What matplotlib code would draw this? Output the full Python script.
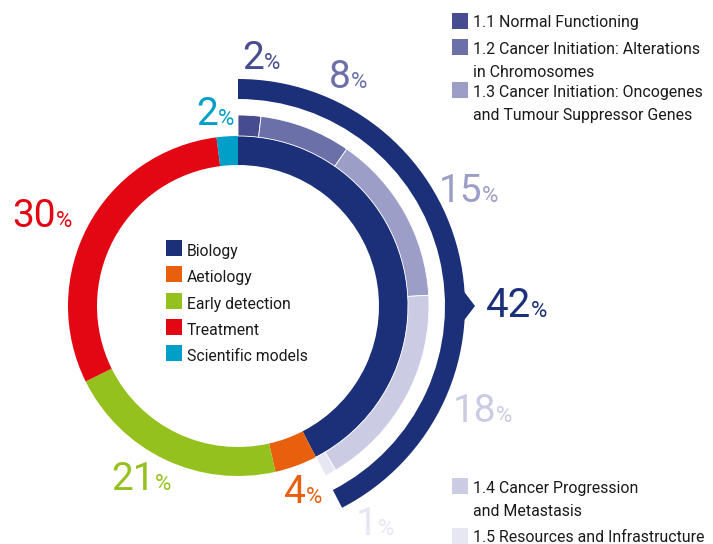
import matplotlib
matplotlib.use("Agg")
import matplotlib.pyplot as plt
from matplotlib.patches import Polygon, Rectangle

plt.rcParams['font.family'] = ['Roboto', 'DejaVu Sans']

# main categories (share of all projects, %)
categories = ["Biology", "Aetiology", "Early detection", "Treatment", "Scientific models"]
cat_values = [42, 4, 21, 30, 2]
cat_colors = ["#1b3078", "#e8600e", "#95c11f", "#e30613", "#009fc8"]

# biology sub-areas (%)
sub_labels = ["1.1 Normal Functioning",
              "1.2 Cancer Initiation: Alterations\nin Chromosomes",
              "1.3 Cancer Initiation: Oncogenes\nand Tumour Suppressor Genes",
              "1.4 Cancer Progression\nand Metastasis",
              "1.5 Resources and Infrastructure"]
sub_values = [2, 8, 15, 18, 1]
sub_colors = ["#474c91", "#6c70a9", "#9c9ec8", "#cbcce4", "#e7e7f3"]

W, H = 713, 544
cx, cy = 238, H - 306


def Y(y):
    # picture rows are counted from the top
    return H - y


fig = plt.figure(figsize=(W / 100, H / 100), dpi=100)
ax = fig.add_axes([0, 0, 1, 1])

# main ring
ax.pie(cat_values, colors=cat_colors, startangle=90, counterclock=False,
       radius=170, center=(cx, cy), frame=True,
       wedgeprops=dict(width=29, linewidth=0))

# biology share of the circle, sub ring fills exactly that span
bio_share = cat_values[0] / sum(cat_values)
sub_frac = [v / sum(sub_values) * bio_share for v in sub_values]
ax.pie(sub_frac, colors=sub_colors, startangle=90, counterclock=False,
       normalize=False, radius=191, center=(cx, cy), frame=True,
       wedgeprops=dict(width=21, linewidth=0.6, edgecolor="white"))

# outer bracket arc for biology
ax.pie([bio_share], colors=[cat_colors[0]], startangle=90, counterclock=False,
       normalize=False, radius=227, center=(cx, cy), frame=True,
       wedgeprops=dict(width=20, linewidth=0))
ax.add_patch(Polygon([(cx + 224, cy + 17), (cx + 237, cy), (cx + 224, cy - 17)],
                     closed=True, color=cat_colors[0], lw=0))


def pct(x, y, num, color, size=28):
    ax.text(x, Y(y), num, ha="right", va="baseline", fontsize=size, color=color)
    ax.text(x - 0.5, Y(y), "%", ha="left", va="baseline", fontsize=16, color=color)


pct(531, 317, "42", cat_colors[0], 29)
pct(56, 227, "30", cat_colors[3])
pct(155, 490, "21", cat_colors[2])
pct(306, 503, "4", cat_colors[1])
pct(218, 125, "2", cat_colors[4])
pct(264, 69, "2", sub_colors[0])
pct(351, 88, "8", sub_colors[1])
pct(482, 202, "15", sub_colors[2])
pct(496, 422, "18", sub_colors[3])
pct(378, 535, "1", sub_colors[4])

txt_color = "#1a1a1a"
# centre legend
for i, (lab, col) in enumerate(zip(categories, cat_colors)):
    top = 240 + i * 26.3
    ax.add_patch(Rectangle((166, Y(top + 16)), 16, 16, color=col, lw=0))
    ax.text(187, Y(top + 16), lab, ha="left", va="baseline", fontsize=11.3, color=txt_color)

# sub-area legends
sub_rows = [13, 39, 82, 478, 528]
for lab, col, top in zip(sub_labels, sub_colors, sub_rows):
    ax.add_patch(Rectangle((452, Y(top + 16)), 16, 16, color=col, lw=0))
    lines = lab.split("\n")
    for j, line in enumerate(lines):
        ax.text(473, Y(top + 14.5 + j * 23.5), line, ha="left", va="baseline",
                fontsize=11.4, color=txt_color)

ax.set_xlim(0, W)
ax.set_ylim(0, H)
ax.set_aspect("equal")
ax.axis("off")

fig.savefig("out.png", dpi=100)
